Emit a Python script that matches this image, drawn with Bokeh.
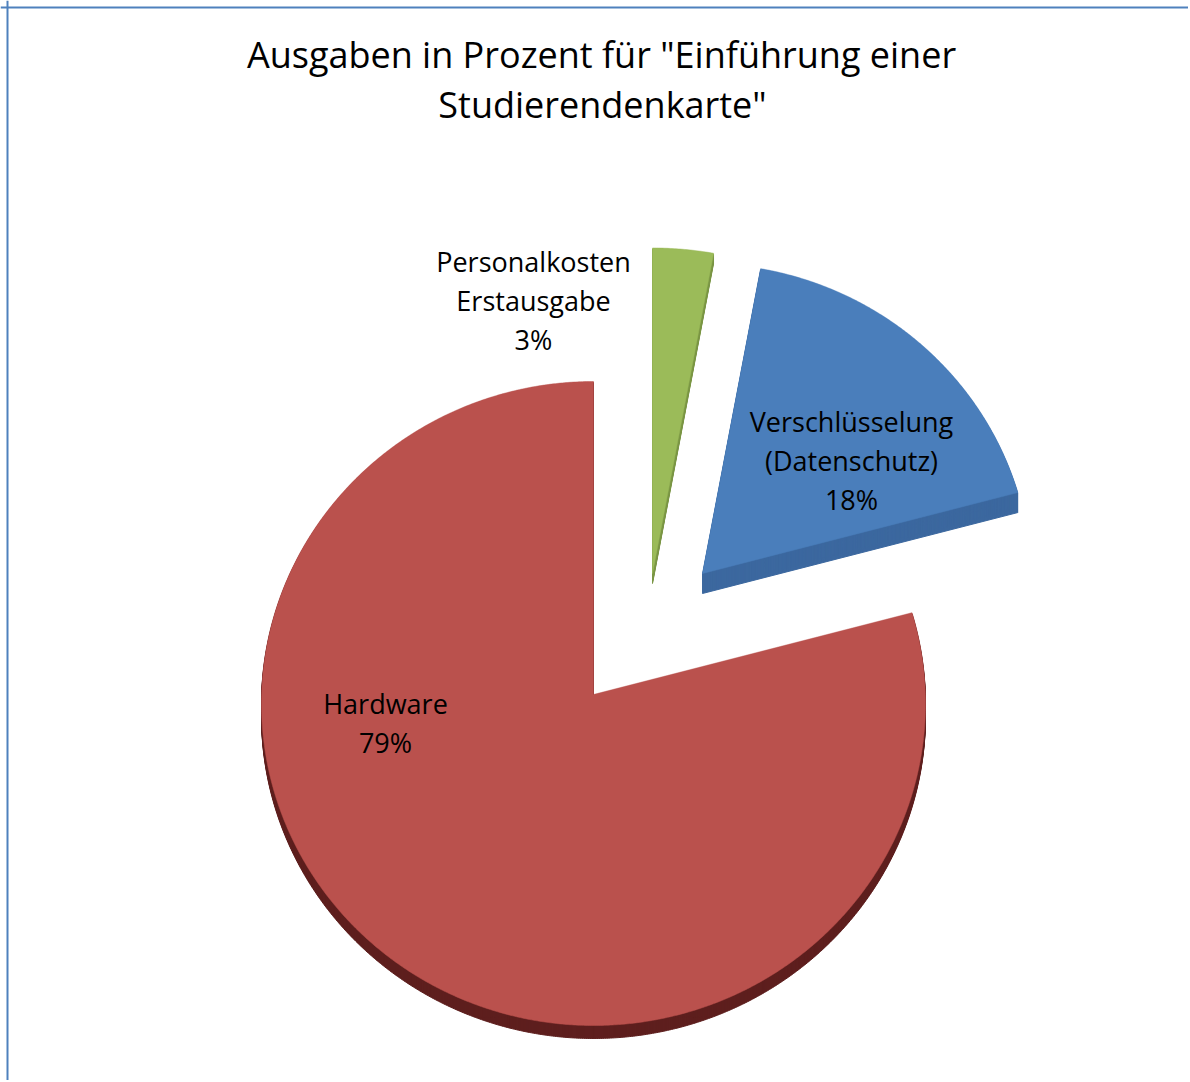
import numpy as np
from bokeh.plotting import figure
from bokeh.models import Range1d, Span
from bokeh.core.properties import value
from bokeh.embed import file_html
from bokeh.resources import INLINE

# ---------------- data ----------------
title_lines = ['Ausgaben in Prozent für "Einführung einer', 'Studierendenkarte"']
categories = ["Verschlüsselung\n(Datenschutz)", "Hardware", "Personalkosten\nErstausgabe"]
shares = [18, 79, 3]  # percent

# ---------------- style / layout ----------------
top_colors = ["#4A7EBB", "#BA514D", "#9BBB59"]
side_colors = ["#3C689F", "#5E1F1E", "#7B9645"]
FIRST_SLICE_ANGLE = 10.8          # clockwise from 12 o'clock, degrees
W, H = 1188, 1080
RX, RY = 332.0, 322.0             # ellipse radii of the top face (px)
VDY = 9.0                          # projected centre sits above the ellipse centre
BASE = (593, 694)                  # screen position of the un-exploded pie centre
EXPLODE = [(109, -121), (0, 0), (59, -121)]   # screen offsets of each slice
SCALE = [0.99, 1.0, 1.04]
DEPTH = [20, 13, 10]
LABEL_POS = [(851, 421), (385, 703), (533, 261)]  # screen x, first line centre
LINE_GAP = 39
FONT = "Open Sans"


def dx(X):
    return X


def dy(Y):
    return H - Y


p = figure(width=W, height=H, output_backend="svg", toolbar_location=None,
           x_range=Range1d(0, W), y_range=Range1d(0, H),
           x_axis_type=None, y_axis_type=None, min_border=0)
p.grid.visible = False
p.outline_line_color = None
p.background_fill_color = "white"
p.border_fill_color = "white"

# chart-area border (left and top visible in the reference)
p.add_layout(Span(location=7, dimension="height", line_color="#4F81BD", line_width=2))
p.add_layout(Span(location=H - 7, dimension="width", line_color="#4F81BD", line_width=2))

# slice angles from the data
fr = np.array(shares, dtype=float) / np.sum(shares)
ends = FIRST_SLICE_ANGLE + np.cumsum(fr) * 360.0
starts = ends - fr * 360.0


def ray_len(theta):
    ux, uy = np.sin(theta), np.cos(theta)
    a = ux ** 2 / RX ** 2 + uy ** 2 / RY ** 2
    b = 2 * uy * VDY / RY ** 2
    c = VDY ** 2 / RY ** 2 - 1
    return (-b + np.sqrt(b ** 2 - 4 * a * c)) / (2 * a)


def slice_poly(vx, vy, a0, a1, s):
    n = max(int((a1 - a0) * 3), 8)
    th = np.radians(np.linspace(a0, a1, n))
    r = ray_len(th) * s
    xs = np.concatenate([[vx], vx + r * np.sin(th)])
    ys = np.concatenate([[vy], vy + r * np.cos(th)])
    return xs, ys


polys = []
for i in range(len(shares)):
    ox, oy = EXPLODE[i]
    vx, vy = dx(BASE[0] + ox), dy(BASE[1] + oy)
    polys.append(slice_poly(vx, vy, starts[i], ends[i], SCALE[i]))

# 3D side faces: stacked downward copies
for i, (xs, ys) in enumerate(polys):
    d = DEPTH[i]
    xs_list = [list(xs) for k in range(d, 0, -1)]
    ys_list = [list(ys - k) for k in range(d, 0, -1)]
    p.patches(xs_list, ys_list, fill_color=side_colors[i], line_color=side_colors[i],
              line_width=1)

# top faces
for i, (xs, ys) in enumerate(polys):
    p.patch(list(xs), list(ys), fill_color=top_colors[i], line_color=top_colors[i],
            line_width=0.5)

# data labels
for i, cat in enumerate(categories):
    lines = cat.split("\n") + [f"{shares[i]}%"]
    lx, ly = LABEL_POS[i]
    p.text(x=[dx(lx)] * len(lines), y=[dy(ly + k * LINE_GAP) for k in range(len(lines))],
           text=lines, text_font=value(FONT), text_font_size="27px",
           text_align="center", text_baseline="middle", text_color="black")

# title
p.text(x=[dx(601), dx(602)], y=[dy(54), dy(104)], text=title_lines,
       text_font=value(FONT), text_font_size="36px", text_align="center",
       text_baseline="middle", text_color="black")

open("out.html", "w").write(file_html(p, INLINE))
